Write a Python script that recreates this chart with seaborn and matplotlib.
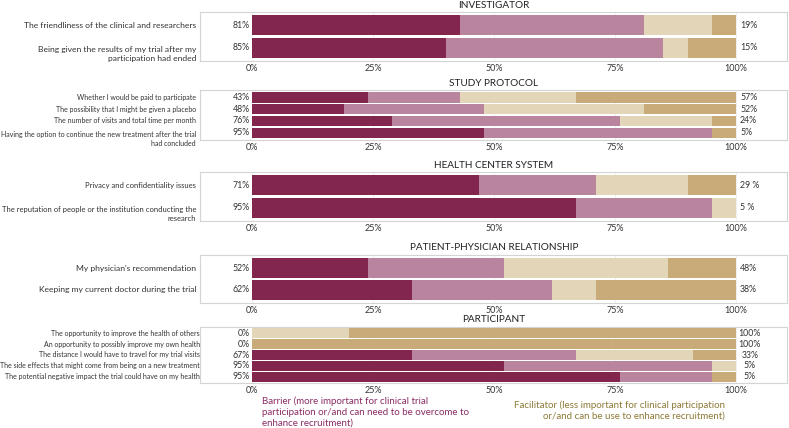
import matplotlib
matplotlib.use("Agg")
import matplotlib.pyplot as plt
import matplotlib.transforms as mtrans
import seaborn as sns
import pandas as pd
import numpy as np

# segment order: strong barrier, barrier, facilitator, strong facilitator
seg_names = ["strong_barrier", "barrier", "facilitator", "strong_facilitator"]
seg_colors = ["#83264D", "#B9849E", "#E2D5B8", "#C8AB78"]

panel_titles = ["INVESTIGATOR", "STUDY PROTOCOL", "HEALTH CENTER SYSTEM",
                "PATIENT-PHYSICIAN RELATIONSHIP", "PARTICIPANT"]

investigator_items = ["The friendliness of the clinical and researchers",
                      "Being given the results of my trial after my\nparticipation had ended"]
investigator_vals = [[43, 38, 14, 5], [40, 45, 5, 10]]
investigator_left = ["81%", "85%"]
investigator_right = ["19%", "15%"]

protocol_items = ["Whether I would be paid to participate",
                  "The possibility that I might be given a placebo",
                  "The number of visits and total time per month",
                  "Having the option to continue the new treatment after the trial\nhad concluded"]
protocol_vals = [[24, 19, 24, 33], [19, 29, 33, 19], [29, 47, 19, 5], [48, 47, 0, 5]]
protocol_left = ["43%", "48%", "76%", "95%"]
protocol_right = ["57%", "52%", "24%", "5%"]

health_items = ["Privacy and confidentiality issues",
                "The reputation of people or the institution conducting the\nresearch"]
health_vals = [[47, 24, 19, 10], [67, 28, 5, 0]]
health_left = ["71%", "95%"]
health_right = ["29 %", "5 %"]

physician_items = ["My physician's recommendation",
                   "Keeping my current doctor during the trial"]
physician_vals = [[24, 28, 34, 14], [33, 29, 9, 29]]
physician_left = ["52%", "62%"]
physician_right = ["48%", "38%"]

participant_items = ["The opportunity to improve the health of others",
                     "An opportunity to possibly improve my own health",
                     "The distance I would have to travel for my trial visits",
                     "The side effects that might come from being on a new treatment",
                     "The potential negative impact the trial could have on my health"]
participant_vals = [[0, 0, 20, 80], [0, 0, 0, 100], [33, 34, 24, 9], [52, 43, 5, 0], [76, 19, 0, 5]]
participant_left = ["0%", "0%", "67%", "95%", "95%"]
participant_right = ["100%", "100%", "33%", "5%", "5%"]

x_ticks = [0, 25, 50, 75, 100]
x_ticklabels = ["0%", "25%", "50%", "75%", "100%"]

panels = [
    (investigator_items, investigator_vals, investigator_left, investigator_right),
    (protocol_items, protocol_vals, protocol_left, protocol_right),
    (health_items, health_vals, health_left, health_right),
    (physician_items, physician_vals, physician_left, physician_right),
    (participant_items, participant_vals, participant_left, participant_right),
]

# axes boxes in pixels (top, bottom)
W, H = 789, 428
boxes = [(12, 61), (90, 140), (172, 221), (255, 303), (327, 383)]
ax_left, ax_right = 200, 787

sns.set_theme(style="white")
plt.rcParams['font.family'] = ['Lato', 'DejaVu Sans']
text_col = "#333333"

fig = plt.figure(figsize=(W / 100, H / 100), dpi=100)
renderer = fig.canvas.get_renderer()

for i, (items, vals, left_lbl, right_lbl) in enumerate(panels):
    top, bottom = boxes[i]
    ax = fig.add_axes([ax_left / W, (H - bottom) / H, (ax_right - ax_left) / W, (bottom - top) / H])
    df = pd.DataFrame(vals, columns=seg_names)
    df["item"] = items
    cum = df[seg_names].cumsum(axis=1)
    # draw cumulative bars from the back so they look stacked
    for j in range(len(seg_names) - 1, -1, -1):
        d = pd.DataFrame({"item": items, "value": cum[seg_names[j]]})
        sns.barplot(data=d, x="value", y="item", orient="h", color=seg_colors[j],
                    saturation=1, width=0.9, linewidth=0, ax=ax)
    n = len(items)
    pad = 0.6 if n < 5 else 0.55
    ax.set_ylim(n - 1 + pad, -pad)
    ax.set_xlim(-10.7, 110.5)
    ax.set_xlabel("")
    ax.set_ylabel("")
    ax.set_xticks(x_ticks)
    ax.set_xticklabels(x_ticklabels, fontsize=6.5, color=text_col)
    ax.set_yticks(range(n))
    ax.set_yticklabels([])
    ax.tick_params(axis="both", length=0, pad=2)
    ax.xaxis.grid(True, color="#ececec", linewidth=0.6)
    ax.set_axisbelow(True)
    for s in ax.spines.values():
        s.set_color("#d4d4d4")
        s.set_linewidth(0.8)

    # item labels, drawn as text so wrapped ones can sit with the first line on the bar
    lab_tr = mtrans.blended_transform_factory(ax.transAxes, ax.transData)
    gap = 0 if i == 4 else 4
    lab_x = -gap / (ax_right - ax_left)
    panel_texts = []
    for k, item in enumerate(items):
        if "\n" in item:
            t = lab_tr + mtrans.ScaledTranslation(0, -0.062, fig.dpi_scale_trans)
        else:
            t = lab_tr
        txt = ax.text(lab_x, k, item, transform=t, ha="right", va="center", fontsize=6.1,
                      color=text_col, linespacing=1.3, multialignment="right")
        panel_texts.append(txt)
    # shrink this panel's labels if the widest would run off the left edge
    widest = max(t.get_window_extent(renderer).width for t in panel_texts)
    room = ax_left - gap - 1
    if widest > room:
        for t in panel_texts:
            t.set_fontsize(t.get_fontsize() * room / widest)

    tr = mtrans.blended_transform_factory(ax.transData, ax.transAxes)
    ax.text(50, 1.0 + 7 / (bottom - top), panel_titles[i], transform=tr, ha="center",
            va="center", fontsize=7.2, color="#222222")
    for k in range(n):
        ax.text(-0.4, k, left_lbl[k], ha="right", va="center", fontsize=6.3, color=text_col)
        if i == 4:
            ax.text(102.8, k, right_lbl[k], ha="center", va="center", fontsize=6.3, color=text_col)
        else:
            ax.text(100.8, k, right_lbl[k], ha="left", va="center", fontsize=6.3, color=text_col)

fig.text(262 / W, 1 - 396 / H,
         "Barrier (more important for clinical trial\nparticipation or/and can need to be overcome to\nenhance recruitment)",
         ha="left", va="top", fontsize=7.0, color="#8A2D64", linespacing=1.3)
fig.text(725 / W, 1 - 400 / H,
         "Facilitator (less important for clinical participation\nor/and can be use to enhance recruitment)",
         ha="right", va="top", fontsize=7.0, color="#8C7A36", linespacing=1.3, multialignment="right")

fig.savefig("out.png", dpi=100)
